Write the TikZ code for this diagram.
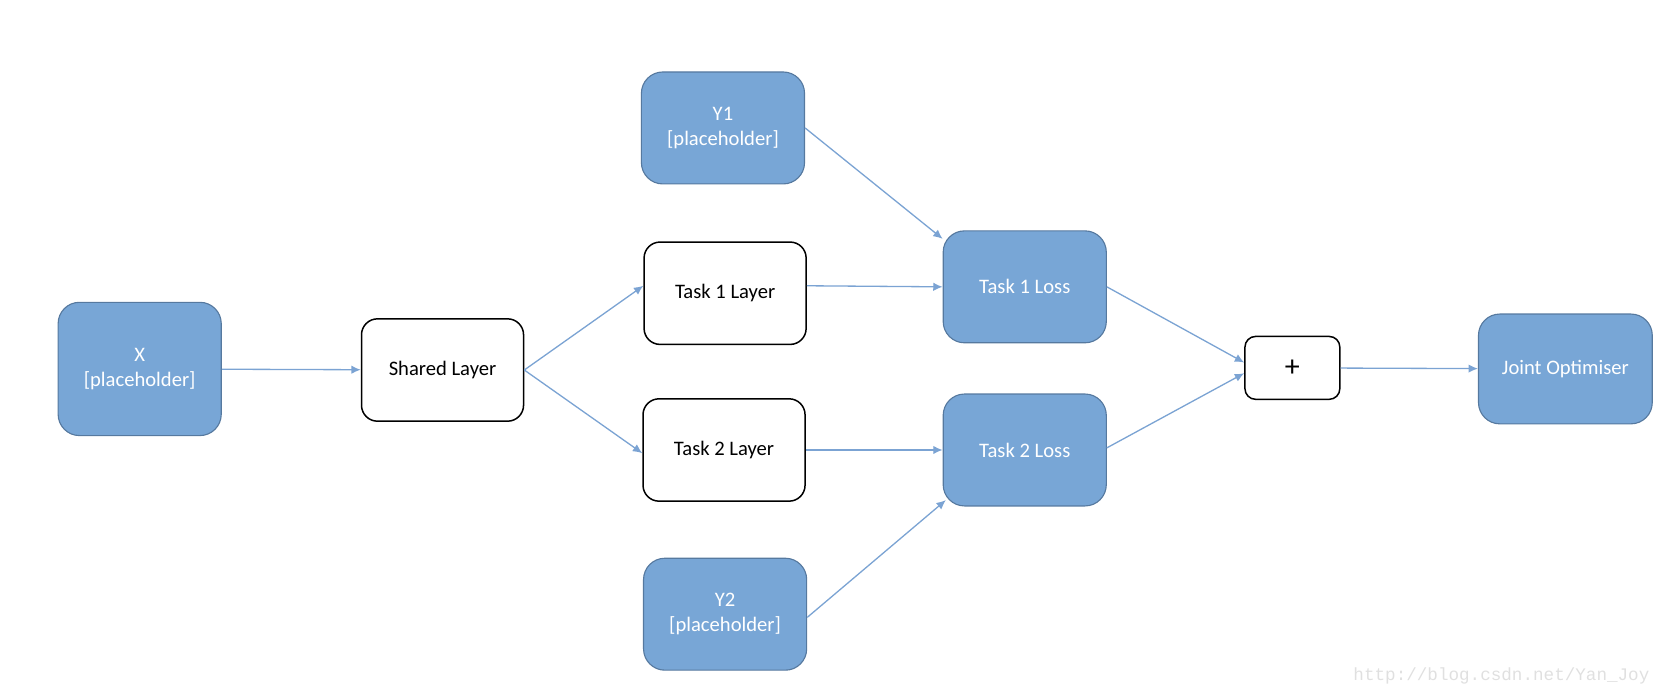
\documentclass[tikz,border=0pt]{standalone}
\usepackage{fontspec}
\usetikzlibrary{arrows.meta}
\setmainfont{Carlito}
\newfontfamily\markfont{Liberation Mono}
\definecolor{boxblue}{HTML}{78A6D6}
\definecolor{edgeblue}{HTML}{56799F}
\definecolor{arrowblue}{HTML}{7BA3D3}
\tikzset{
    holder/.style={draw=edgeblue, line width=0.6pt, fill=boxblue, text=white, rounded corners=0.4cm,
        minimum width=3.06cm, minimum height=2.1cm, align=center, font=\fontsize{11}{13.3}\selectfont},
    layer/.style={draw=black, line width=0.8pt, fill=white, rounded corners=0.3cm,
        minimum width=3.04cm, minimum height=1.92cm, align=center, font=\fontsize{11}{13.3}\selectfont},
    flow/.style={-{Latex[length=5pt,width=4.5pt]}, draw=arrowblue, line width=0.7pt}
}
\begin{document}
\begin{tikzpicture}[x=0.02cm, y=-0.02cm]
                \useasboundingbox (0,0) rectangle (1568,651);
                \node[holder, minimum height=2.5cm] (x) at (131,346) {X\\{[placeholder]}};
                \node[layer] (shared) at (415,347) {Shared Layer};
                \node[holder] (y1) at (678,120) {Y1\\{[placeholder]}};
                \node[layer] (t1layer) at (680,275) {Task 1 Layer};
                \node[layer] (t2layer) at (679,422) {Task 2 Layer};
                \node[holder] (y2) at (680,576) {Y2\\{[placeholder]}};
                \node[holder] (t1loss) at (961,269) {Task 1 Loss};
                \node[holder] (t2loss) at (961,422) {Task 2 Loss};
                \node[layer, minimum width=1.78cm, minimum height=1.18cm, rounded corners=0.2cm, font=\fontsize{16}{18}\selectfont] (plus) at (1212,345) {+};
                \node[holder, minimum width=3.26cm, minimum height=2.06cm] (joint) at (1468,346) {Joint Optimiser};
                \node[text=black!12, font=\markfont\fontsize{9.4}{11}\selectfont, anchor=east] (mark) at (1553,634) {http://blog.csdn.net/Yan\_Joy};
                
                \draw[flow] (x) -- (shared);
                \draw[flow] (shared.east) -- ([yshift=0.14cm]t1layer.west);
                \draw[flow] (shared.east) -- ([yshift=-0.06cm]t2layer.west);
                \draw[flow] (y1.east) -- ([yshift=-0.16cm]t1loss.north west);
                \draw[flow] ([yshift=0.14cm]t1layer.east) -- (t1loss.west);
                \draw[flow] (t2layer) -- (t2loss);
                \draw[flow] ([yshift=-0.06cm]y2.east) -- ([xshift=0.06cm, yshift=0.12cm]t2loss.south west);
                \draw[flow] (t1loss.east) -- ([yshift=0.1cm]plus.west);
                \draw[flow] ([yshift=0.04cm]t2loss.east) -- ([yshift=-0.1cm]plus.west);
                \draw[flow] (plus) -- (joint);
            \end{tikzpicture}
\end{document}
